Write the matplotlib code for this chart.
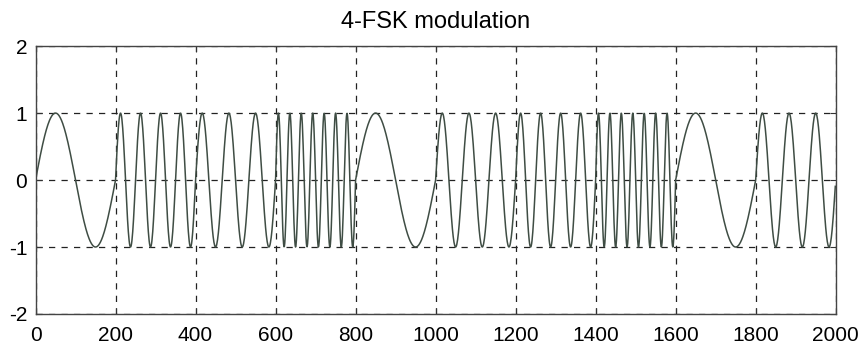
#!/usr/bin/env python
"""4-FSK modulated waveform, 10 symbols of 200 samples each."""

import matplotlib

matplotlib.use("Agg")
import matplotlib.pyplot as plt
import numpy as np

# Symbol data: cycles of the carrier per symbol
symbol_cycles = [1, 4, 3, 7, 1, 3, 4, 7, 1, 3]
samples_per_symbol = 200

x_ticks = [0, 200, 400, 600, 800, 1000, 1200, 1400, 1600, 1800, 2000]
y_ticks = [-2, -1, 0, 1, 2]

plt.rcParams["font.family"] = ["Liberation Sans", "DejaVu Sans"]
plt.rcParams["axes.unicode_minus"] = False

# Build the modulated signal, phase restarts at each symbol
n = np.arange(samples_per_symbol)
signal = np.concatenate(
    [np.sin(2 * np.pi * c * n / samples_per_symbol) for c in symbol_cycles]
)
t = np.arange(len(signal))

fig = plt.figure(figsize=(8.66, 3.52), dpi=100)
ax = fig.add_axes([0.041, 0.108, 0.924, 0.761])

ax.plot(t, signal, color="#3f4d44", lw=1.1)

ax.set_xlim(0, 2000)
ax.set_ylim(-2, 2)
ax.set_xticks(x_ticks)
ax.set_yticks(y_ticks)
ax.grid(True, color="#222222", linestyle=(0, (5, 5)), lw=0.9)
ax.tick_params(direction="in", length=4, labelsize=15, top=True, right=True,
               color="#333333")
ax.tick_params(axis="x", pad=9)
ax.tick_params(axis="y", pad=6)
for s in ax.spines.values():
    s.set_color("#444444")
    s.set_linewidth(1.0)

ax.set_title("4-FSK modulation", fontsize=17, pad=13)

fig.savefig("out.png", dpi=100)
